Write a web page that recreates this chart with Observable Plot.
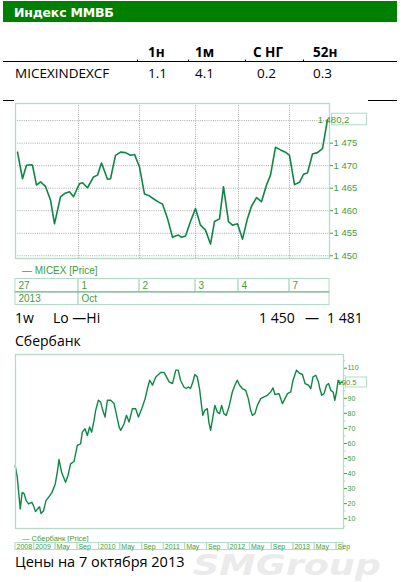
<!DOCTYPE html>
<html><head><meta charset="utf-8">
<script src="https://cdn.jsdelivr.net/npm/d3@7"></script>
<script src="https://cdn.jsdelivr.net/npm/@observablehq/plot@0.6"></script>
<style>
html,body{margin:0;padding:0;background:#fff;}
body{width:403px;height:582px;overflow:hidden;position:relative;}
</style></head><body>
<script>
// ---------------- DATA ----------------
const headerTitle = "Индекс ММВБ";
const tableColumns = ["1н", "1м", "С НГ", "52н"];
const tableRowName = "MICEXINDEXCF";
const tableRowValues = ["1.1", "4.1", "0.2", "0.3"];

// MICEX intraday, x = session time index
const micexT = [2,7,11,16,17,21,25,30,35,39,45,49,54,58,64,67,72,78,82,86,92,95,100,105,110,115,119,124,129,133,139,144,147,152,157,160,163,166,170,175,180,185,190,195,199,204,208,213,217,222,227,232,236,241,246,251,255,260,265,270,274,279,284,288,292,297,302,307,312];
const micexV = [1473.0,1467.1,1470.1,1470.2,1470.1,1465.7,1466.4,1465.4,1462.4,1457.1,1463.1,1463.8,1464.2,1463.1,1466.0,1466.2,1465.1,1467.5,1467.9,1470.6,1467.0,1467.1,1472.3,1473.0,1472.9,1472.3,1472.5,1469.7,1463.7,1463.4,1462.5,1461.8,1461.5,1458.3,1454.1,1454.4,1454.6,1454.1,1454.4,1457.6,1460.5,1456.8,1455.7,1452.6,1457.6,1458.2,1465.3,1457.6,1456.8,1457.1,1453.7,1458.3,1461.0,1462.9,1462.0,1465.7,1467.9,1474.1,1473.5,1473.0,1472.3,1465.8,1466.3,1468.1,1468.4,1472.6,1472.9,1473.8,1480.2];
const micexEnd = 314;
const micexDayTicks = [0, 63, 124, 180, 223, 274];
const micexDayLabels = ["27", "1", "2", "3", "4", "7"];
const micexMonthTicks = [0, 63];
const micexMonthLabels = ["2013", "Oct"];
const micexYTicks = [1450, 1455, 1460, 1465, 1470, 1475, 1480];
const micexYDomain = [1449.4, 1483.8];
const micexLast = 1480.2;
const micexLegend = "MICEX [Price]";

const rangeLabel = "1w";
const rangeLoHi = "Lo —Hi";
const rangeLo = "1 450";
const rangeHi = "1 481";
const stockTitle = "Сбербанк";

// Sberbank, x = decimal year
const sberT = [2008.706,2008.737,2008.784,2008.814,2008.845,2008.876,2008.912,2008.964,2008.989,2009.020,2009.051,2009.082,2009.104,2009.144,2009.181,2009.221,2009.274,2009.325,2009.360,2009.382,2009.422,2009.484,2009.521,2009.561,2009.614,2009.665,2009.716,2009.742,2009.784,2009.820,2009.855,2009.886,2009.923,2009.948,2009.990,2010.025,2010.051,2010.093,2010.129,2010.180,2010.232,2010.283,2010.310,2010.334,2010.387,2010.423,2010.464,2010.515,2010.566,2010.608,2010.659,2010.712,2010.747,2010.783,2010.825,2010.876,2010.953,2011.006,2011.041,2011.083,2011.134,2011.185,2011.222,2011.258,2011.309,2011.346,2011.377,2011.412,2011.448,2011.479,2011.516,2011.551,2011.582,2011.602,2011.633,2011.671,2011.695,2011.722,2011.757,2011.788,2011.825,2011.861,2011.892,2011.927,2011.964,2012.005,2012.057,2012.097,2012.134,2012.170,2012.212,2012.263,2012.304,2012.340,2012.366,2012.406,2012.444,2012.495,2012.546,2012.598,2012.649,2012.685,2012.716,2012.778,2012.830,2012.870,2012.908,2012.959,2012.994,2013.047,2013.098,2013.139,2013.180,2013.232,2013.268,2013.303,2013.345,2013.387,2013.407,2013.438,2013.473,2013.511,2013.542,2013.577,2013.613,2013.639,2013.665,2013.690,2013.716,2013.747,2013.763];
const sberV = [45.3,38,16.5,27.5,26.5,22,19.8,20.9,18.7,14.7,16.5,18,13.5,15.3,22,24.2,27.5,33.1,42,49.3,40.9,34.2,38.7,46.4,48,58.7,59.8,67.5,69.8,65.3,70.9,67.5,75.3,82,88.7,87.5,83.1,77.5,88.7,88.7,86.5,76.5,70.9,68.7,73.1,78.7,74.2,83.1,83.1,77.5,83.1,89.8,96.5,102,98.7,104.2,107.1,107.1,104.2,100.9,99.8,108.7,108.7,102,97.5,96.5,97.5,96.5,100.9,105.8,104.2,96.5,85.3,78.7,82,83.1,74.2,68.7,77.5,85.3,80.9,79.8,85.3,79.8,78.7,84.2,94.2,98.7,102,98.7,96.5,95.3,89.8,82,78.7,79.8,85.3,89.8,90.9,92,94.2,96.9,92.5,93.1,86.5,89.8,93.1,94.2,102,108.7,106.5,105.8,99.8,98.7,96.5,104.2,105.3,100.9,96.5,92,93.1,98.7,99.8,95.3,94.2,88.7,94.2,102,99.8,100.9,100.5];
const sberDomainX = [2008.711, 2013.773];
const sberDomainY = [3.5, 119.1];
const sberTicks = [2008.711,2009,2009.329,2009.666,2010,2010.329,2010.666,2011,2011.329,2011.666,2012,2012.329,2012.666,2013,2013.329,2013.666];
const sberTickLabels = ["2008","2009","May","Sep","2010","May","Sep","2011","May","Sep","2012","May","Sep","2013","May","Sep"];
const sberYTicks = [10,20,30,40,50,60,70,80,90,100,110];
const sberYMinor = [5,15,25,35,45,55,65,75,85,95,105,115];
const sberLast = 100.5;
const sberLegend = "Сбербанк [Price]";
const footer = "Цены на 7 октября 2013";
const watermark = "SMGroup";

// ---------------- STYLE ----------------
const headerGreen = "#008000";
const lineGreen = "#0e8745";
const labelGreen = "#3f9d3a";
const mint = "#b2dcc6";
const sepGreen = "#62ad82";
const textFont = "'Open Sans', 'Noto Sans', sans-serif";
const chartFont = "'Liberation Sans', Arial, sans-serif";

function place(node, left, top) {
  node.style.position = "absolute";
  node.style.left = left + "px";
  node.style.top = top + "px";
  document.body.appendChild(node);
  return node;
}

// ---------------- BACKGROUND (texts) ----------------
const bg = d3.select("body").append("svg")
  .attr("width", 403).attr("height", 582)
  .style("position", "absolute").style("left", "0px").style("top", "0px");

bg.append("rect").attr("x", 3).attr("y", 1).attr("width", 394).attr("height", 21).attr("fill", headerGreen);
bg.append("text").attr("x", 14).attr("y", 16.5).text(headerTitle)
  .attr("fill", "#fff").attr("font-family", "'DejaVu Sans', Verdana, sans-serif")
  .attr("font-weight", "bold").attr("font-size", 12.5).attr("letter-spacing", -0.2);

const colX = [148, 195, 253, 313];
tableColumns.forEach((c, i) => {
  bg.append("text").attr("x", colX[i]).attr("y", 57).text(c)
    .attr("font-family", textFont).attr("font-weight", "bold").attr("font-size", 13.5).attr("fill", "#000");
});
bg.append("line").attr("x1", 3).attr("x2", 397).attr("y1", 61.5).attr("y2", 61.5).attr("stroke", "#000");
[137, 188, 245, 303].forEach(x => {
  bg.append("line").attr("x1", x + 0.5).attr("x2", x + 0.5).attr("y1", 59.5).attr("y2", 61.5).attr("stroke", "#000");
});
bg.append("text").attr("x", 15).attr("y", 78).text(tableRowName)
  .attr("font-family", textFont).attr("font-size", 13.5).attr("fill", "#000");
tableRowValues.forEach((v, i) => {
  bg.append("text").attr("x", colX[i] + (i === 2 ? 4 : 0)).attr("y", 78).text(v)
    .attr("font-family", textFont).attr("font-size", 13.5).attr("fill", "#000");
});
bg.append("line").attr("x1", 3).attr("x2", 397).attr("y1", 100.5).attr("y2", 100.5).attr("stroke", "#000");

// legends
bg.append("text").attr("x", 22).attr("y", 274).text("— " + micexLegend)
  .attr("font-family", chartFont).attr("font-size", 10).attr("fill", labelGreen);
bg.append("text").attr("x", 22).attr("y", 540.5).text("— " + sberLegend)
  .attr("font-family", chartFont).attr("font-size", 7.5).attr("fill", labelGreen);

// range line
const rt = (x, y, s, size) => bg.append("text").attr("x", x).attr("y", y).text(s)
  .attr("font-family", textFont).attr("font-size", size).attr("fill", "#000");
rt(15, 323, rangeLabel, 14);
rt(53, 323, rangeLoHi, 14);
rt(259, 323, rangeLo, 14);
rt(305, 323, "—", 14);
rt(327, 323, rangeHi, 14);
rt(15, 345.5, stockTitle, 14);
rt(15, 566.5, footer, 14.5);

bg.append("text").attr("x", 193).attr("y", 575).text(watermark)
  .attr("font-family", "'DejaVu Sans', sans-serif").attr("font-weight", "bold")
  .attr("font-style", "italic").attr("font-size", 29).attr("fill", "#ebebeb")
  .attr("textLength", 188).attr("lengthAdjust", "spacingAndGlyphs");

// ---------------- CHART 1: MICEX ----------------
const micex = micexT.map((t, i) => ({t, v: micexV[i]}));
const ruFmt = d3.formatLocale({decimal: ",", thousands: " ", grouping: [3], currency: ["", ""]});
const c1 = Plot.plot({
  width: 354, height: 160,
  marginLeft: 1, marginRight: 39, marginTop: 3, marginBottom: 2,
  style: {background: "#fff", fontFamily: chartFont, fontSize: "9.5px", overflow: "visible"},
  x: {domain: [0, micexEnd], axis: null},
  y: {domain: micexYDomain, axis: null},
  marks: [
    Plot.gridY(micexYTicks, {stroke: "#a8a8a8", strokeOpacity: 1, strokeDasharray: "1,1.2"}),
    Plot.gridX(micexDayTicks.slice(1), {stroke: "#a8a8a8", strokeOpacity: 1, strokeDasharray: "1,1.2"}),
    Plot.line(micex, {x: "t", y: "v", stroke: lineGreen, strokeWidth: 1.6}),
    Plot.frame({stroke: mint, strokeWidth: 1.3}),
    Plot.axisY(micexYTicks.filter(v => v < 1480), {
      anchor: "right", tickSize: 3, tickPadding: 1, color: labelGreen, label: null,
      tickFormat: d => ruFmt.format(",")(d)
    })
  ]
});
place(c1, 14, 100);
{
  const ys = c1.scale("y").apply(micexLast);
  const xs = c1.scale("x").apply(micexEnd);
  const s = d3.select(c1);
  s.append("rect").attr("x", xs + 2.5).attr("y", ys - 6).attr("width", 35).attr("height", 11.5)
    .attr("fill", "#fff").attr("stroke", mint);
  s.append("text").attr("x", xs + 4.5).attr("y", ys + 3.3).text(ruFmt.format(",.1f")(micexLast))
    .attr("font-family", chartFont).attr("font-size", 9.5).attr("fill", labelGreen);
}

// axis table 1
const cells1 = [
  ...micexDayTicks.map((t, i) => ({x1: t, x2: micexDayTicks[i + 1] ?? micexEnd, row: 0, label: micexDayLabels[i]})),
  ...micexMonthTicks.map((t, i) => ({x1: t, x2: micexMonthTicks[i + 1] ?? micexEnd, row: 1, label: micexMonthLabels[i]}))
];
const a1 = Plot.plot({
  width: 354, height: 27,
  marginLeft: 1, marginRight: 39, marginTop: 0.5, marginBottom: 0.5,
  style: {background: "transparent", fontFamily: chartFont, overflow: "visible"},
  x: {domain: [0, micexEnd], axis: null},
  y: {domain: [0, 2], reverse: true, axis: null},
  marks: [
    Plot.rect(cells1, {x1: "x1", x2: "x2", y1: "row", y2: d => d.row + 1, stroke: mint, fill: "none"}),
    Plot.ruleY([1], {stroke: sepGreen}),
    Plot.text(cells1, {x: "x1", y: d => d.row + 0.5, text: "label", textAnchor: "start", dx: 3, fill: labelGreen, fontSize: 10})
  ]
});
place(a1, 14, 277.5);

// ---------------- CHART 2: SBERBANK ----------------
const sber = sberT.map((t, i) => ({t, v: sberV[i]}));
const c2 = Plot.plot({
  width: 360, height: 182,
  marginLeft: 1, marginRight: 31, marginTop: 4, marginBottom: 4,
  style: {background: "#fff", fontFamily: chartFont, fontSize: "7px", overflow: "visible"},
  x: {domain: sberDomainX, axis: null},
  y: {domain: sberDomainY, axis: null},
  marks: [
    Plot.line(sber, {x: "t", y: "v", stroke: lineGreen, strokeWidth: 1.4}),
    Plot.frame({stroke: mint, strokeWidth: 1.3}),
    Plot.axisY(sberYMinor, {anchor: "right", tickSize: 1.5, text: null, color: mint, label: null}),
    Plot.axisY(sberYTicks, {
      anchor: "right", tickSize: 3, tickPadding: 1, color: labelGreen, label: null,
      tickFormat: d => d === 100 ? "" : String(d)
    })
  ]
});
place(c2, 14, 350);
{
  const ys = c2.scale("y").apply(sberLast);
  const xs = c2.scale("x").apply(sberDomainX[1]);
  const s = d3.select(c2);
  s.append("rect").attr("x", xs + 2.5).attr("y", ys - 5).attr("width", 21).attr("height", 10)
    .attr("fill", "#fff").attr("stroke", mint);
  s.append("text").attr("x", xs + 4).attr("y", ys + 2.8).text(String(sberLast))
    .attr("font-family", chartFont).attr("font-size", 7.5).attr("fill", labelGreen);
}

// axis table 2
const cells2 = sberTicks.map((t, i) => ({x1: t, x2: sberTicks[i + 1] ?? sberDomainX[1], label: sberTickLabels[i]}));
const a2 = Plot.plot({
  width: 360, height: 8,
  marginLeft: 1, marginRight: 31, marginTop: 0.5, marginBottom: 0.5,
  style: {background: "transparent", fontFamily: chartFont, overflow: "visible"},
  x: {domain: sberDomainX, axis: null},
  y: {domain: [0, 1], reverse: true, axis: null},
  marks: [
    Plot.rect(cells2, {x1: "x1", x2: "x2", y1: 0, y2: 1, stroke: mint, fill: "none"}),
    Plot.text(cells2, {x: "x1", y: 0.5, text: "label", textAnchor: "start", dx: 1, fill: labelGreen, fontSize: 7})
  ]
});
place(a2, 14, 541.5);
</script>
</body></html>
